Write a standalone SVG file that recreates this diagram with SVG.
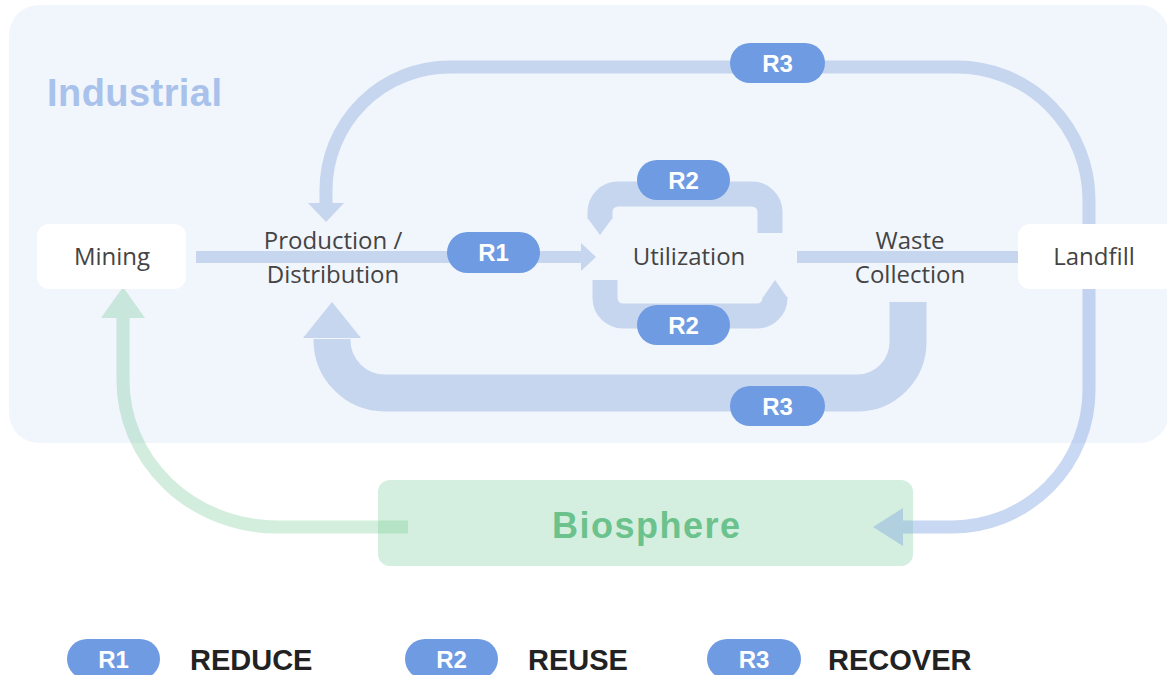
<svg xmlns="http://www.w3.org/2000/svg" width="1167" height="675" viewBox="0 0 1167 675">
  <style>
    .node-label { font-family: "Open Sans", "Liberation Sans", sans-serif; font-size: 24px; fill: #444444; text-anchor: middle; }
    .box { fill: #ffffff; }
    .flow { fill: none; stroke: #C6D6EF; stroke-linecap: butt; stroke-linejoin: round; }
    .head { fill: #C6D6EF; }
    .flow-a { fill: none; stroke: #7BA0E0; }
    .head-a { fill: #7BA0E0; }
    .flow-g { fill: none; stroke: #6CC690; }
    .head-g { fill: #6CC690; }
    .pill { fill: #6F9BE2; }
    .pill-text { font-family: "Liberation Sans", Arial, sans-serif; font-weight: bold; font-size: 24px; fill: #ffffff; text-anchor: middle; }
    .legend-text { font-family: "Liberation Sans", Arial, sans-serif; font-weight: bold; font-size: 29px; fill: #222222; }
  </style>

  <!-- industrial zone backdrop -->
  <g id="industrial">
    <rect x="9" y="5" width="1160" height="438" rx="30" fill="#F1F5FC"/>
    <text x="47" y="106" font-family="Liberation Sans, Arial, sans-serif" font-weight="bold" font-size="38" fill="#A8C2EB" textLength="175" lengthAdjust="spacing">Industrial</text>
  </g>

  <!-- biosphere zone -->
  <g id="biosphere">
    <rect x="378" y="480" width="535" height="86" rx="12" fill="#D4EFDF"/>
    <text x="646" y="538" font-family="Liberation Sans, Arial, sans-serif" font-weight="bold" font-size="36" fill="#6CC28C" text-anchor="middle" textLength="188" lengthAdjust="spacing">Biosphere</text>
  </g>

  <g id="connectors">
    <!-- mining -> production -> utilization -->
    <path class="flow" stroke-width="12" d="M196 257 H583"/>
    <polygon class="head" points="581,243 596,257 581,271"/>
    <!-- utilization -> waste collection -> landfill -->
    <path class="flow" stroke-width="12" d="M797 257 H1026"/>
    <polygon class="head" points="1025,243 1040,257 1025,271"/>
    <!-- R3 long loop back to production -->
    <path class="flow" stroke-width="13" d="M1089 230 V200 A132 133 0 0 0 957 67 H450 A124 123 0 0 0 326 190 V205"/>
    <polygon class="head" points="308,203 326,222 344,203"/>
    <!-- R3 short loop from waste collection back to production -->
    <path class="flow" stroke-width="37" d="M908 302 V342 A51 51 0 0 1 857 393 H385 A53 53 0 0 1 332 340 V339"/>
    <polygon class="head" points="303,338 332,302 361,338"/>
    <!-- R2 loops around utilization -->
    <path class="flow" stroke-width="25" d="M770 233 V212 A18 18 0 0 0 752 194 H618 A18 18 0 0 0 600 212 V219"/>
    <polygon class="head" points="587.5,218 612.5,218 600,235"/>
    <path class="flow" stroke-width="25" d="M605 280 V298 A18 18 0 0 0 623 316 H757 A18 18 0 0 0 775 298 V297"/>
    <polygon class="head" points="762.5,298 787.5,298 775,280"/>
    <!-- landfill -> biosphere -->
    <g opacity="0.4">
      <path class="flow-a" stroke-width="13" d="M1089 285 V390 A137 137 0 0 1 952 527 H902"/>
      <polygon class="head-a" points="903,508 873,527 903,546"/>
    </g>
    <!-- biosphere -> mining -->
    <g opacity="0.3">
      <path class="flow-g" stroke-width="13" d="M408 527 H277 A154 147 0 0 1 123 380 V317"/>
      <polygon class="head-g" points="101,318 123,287 145,318"/>
    </g>
  </g>

  <g id="mining">
    <rect class="box" x="37" y="224" width="149" height="65" rx="12"/>
    <text class="node-label" x="112" y="265">Mining</text>
  </g>
  <g id="production">
    <text class="node-label" x="333" y="249">Production /</text>
    <text class="node-label" x="333" y="283">Distribution</text>
  </g>
  <g id="utilization">
    <text class="node-label" x="689" y="265">Utilization</text>
  </g>
  <g id="waste-collection">
    <text class="node-label" x="910" y="249">Waste</text>
    <text class="node-label" x="910" y="283">Collection</text>
  </g>
  <g id="landfill">
    <rect class="box" x="1018" y="224" width="160" height="65" rx="12"/>
    <text class="node-label" x="1094" y="265">Landfill</text>
  </g>

  <!-- strategy tags on the flows -->
  <g id="tags">
    <rect class="pill" x="447" y="232" width="93" height="41" rx="20.5"/>
    <text class="pill-text" x="493.5" y="261">R1</text>
    <rect class="pill" x="637" y="160" width="93" height="40" rx="20"/>
    <text class="pill-text" x="683.5" y="188.5">R2</text>
    <rect class="pill" x="637" y="305" width="93" height="40" rx="20"/>
    <text class="pill-text" x="683.5" y="333.5">R2</text>
    <rect class="pill" x="730" y="43" width="95" height="40" rx="20"/>
    <text class="pill-text" x="777.5" y="71.5">R3</text>
    <rect class="pill" x="730" y="386" width="95" height="40" rx="20"/>
    <text class="pill-text" x="777.5" y="414.5">R3</text>
  </g>

  <g id="legend">
    <rect class="pill" x="67" y="639" width="93" height="40" rx="20"/>
    <text class="pill-text" x="113.5" y="667.5">R1</text>
    <text class="legend-text" x="190" y="670">REDUCE</text>
    <rect class="pill" x="405" y="639" width="93" height="40" rx="20"/>
    <text class="pill-text" x="451.5" y="667.5">R2</text>
    <text class="legend-text" x="528" y="670">REUSE</text>
    <rect class="pill" x="707" y="639" width="94" height="40" rx="20"/>
    <text class="pill-text" x="754" y="667.5">R3</text>
    <text class="legend-text" x="828" y="670">RECOVER</text>
  </g>
</svg>
